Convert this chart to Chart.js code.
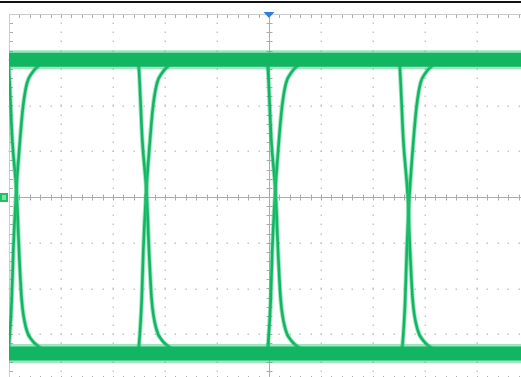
<!DOCTYPE html>
<html>
<head>
<meta charset="utf-8">
<script src="https://cdn.jsdelivr.net/npm/chart.js@4"></script>
<style>
  html, body { margin: 0; padding: 0; background: #fff; overflow: hidden; }
  #wrap { width: 540px; height: 392px; }
</style>
</head>
<body>
<div id="wrap"><canvas id="scope" width="540" height="392"></canvas></div>
<script>
// screen in divisions: 10 across, 8 high, centre at 0,0
const xRange = [-5, 5];
const yRange = [-4, 4];

// rail levels (div)
const highLevel = 3.0;
const lowLevel = -3.42;
const railTimes = [-5, 5];

// edge shapes: levels shared, times per crossing
const riseLevels = [-3.41, -3.24, -2.25, -1.16, -0.07, 1.25, 1.97, 2.49, 2.71, 2.86, 2.95, 3.02];
const fallLevels = [3.02, 2.78, 1.25, -0.07, -1.16, -2.25, -2.91, -3.13, -3.26, -3.34, -3.41];

const riseTimes = [
  [-5.019, -5.000, -4.948, -4.917, -4.871, -4.788, -4.731, -4.654, -4.558, -4.442, -4.346, -4.231],
  [-2.519, -2.500, -2.448, -2.417, -2.371, -2.288, -2.231, -2.154, -2.058, -1.942, -1.846, -1.731],
  [-0.038, -0.019, 0.033, 0.063, 0.110, 0.192, 0.250, 0.327, 0.423, 0.538, 0.635, 0.750],
  [2.548, 2.567, 2.619, 2.650, 2.696, 2.779, 2.837, 2.913, 3.010, 3.125, 3.221, 3.337]
];
const fallTimes = [
  [-5.019, -5.000, -4.937, -4.846, -4.808, -4.756, -4.660, -4.558, -4.442, -4.346, -4.231],
  [-2.519, -2.500, -2.437, -2.346, -2.308, -2.256, -2.160, -2.058, -1.942, -1.846, -1.731],
  [-0.038, -0.019, 0.044, 0.135, 0.173, 0.225, 0.321, 0.423, 0.538, 0.635, 0.750],
  [2.500, 2.519, 2.583, 2.673, 2.712, 2.763, 2.860, 2.962, 3.077, 3.173, 3.288]
];

const traceGreen = 'rgb(0,166,84)';
const haloGreen = 'rgba(40,200,115,0.45)';

function toPoints(times, levels) {
  return times.map((t, i) => ({ x: t, y: levels[i] }));
}

function railSet(level, width, color) {
  return {
    data: railTimes.map(t => ({ x: t, y: level })),
    borderColor: color,
    borderWidth: width,
    pointRadius: 0,
    showLine: true
  };
}

function edgeSet(times, levels, width, color) {
  return {
    data: toPoints(times, levels),
    borderColor: color,
    borderWidth: width,
    pointRadius: 0,
    showLine: true,
    cubicInterpolationMode: 'monotone'
  };
}

const datasets = [];
// halo first, then the darker core
[[19, haloGreen], [14, traceGreen]].forEach(([w, c]) => {
  datasets.push(railSet(highLevel, w, c));
  datasets.push(railSet(lowLevel, w, c));
});
[[4.5, haloGreen], [2.6, traceGreen]].forEach(([w, c]) => {
  riseTimes.forEach(t => datasets.push(edgeSet(t, riseLevels, w, c)));
  fallTimes.forEach(t => datasets.push(edgeSet(t, fallLevels, w, c)));
});

// scope graticule: dotted divisions, centre cross and border ticks
const graticule = {
  id: 'graticule',
  beforeDatasetsDraw(chart) {
    const { ctx, chartArea: a, scales: { x, y } } = chart;
    ctx.save();
    // dotted grid
    ctx.fillStyle = '#c6c6c6';
    for (let i = xRange[0] + 1; i < xRange[1] + 1; i++) {
      if (i === 0) continue;
      const px = Math.round(x.getPixelForValue(i));
      for (let m = yRange[0]; m <= yRange[1] + 0.01; m += 0.2) {
        ctx.fillRect(px - 0.5, Math.round(y.getPixelForValue(m)) - 0.5, 1.5, 1.5);
      }
    }
    for (let j = yRange[0] + 1; j < yRange[1]; j++) {
      if (j === 0) continue;
      const py = Math.round(y.getPixelForValue(j));
      for (let m = xRange[0]; m <= xRange[1] + 0.01; m += 0.2) {
        ctx.fillRect(Math.round(x.getPixelForValue(m)) - 0.5, py - 0.5, 1.5, 1.5);
      }
    }
    // centre cross
    const cx = Math.round(x.getPixelForValue(0)) + 0.5;
    const cy = Math.round(y.getPixelForValue(0)) + 0.5;
    ctx.strokeStyle = '#acacac';
    ctx.lineWidth = 1;
    ctx.beginPath();
    ctx.moveTo(a.left, cy); ctx.lineTo(a.right, cy);
    ctx.moveTo(cx, a.top); ctx.lineTo(cx, a.bottom);
    for (let m = xRange[0]; m <= xRange[1] + 0.01; m += 0.2) {
      const px = Math.round(x.getPixelForValue(m)) + 0.5;
      ctx.moveTo(px, cy - 3); ctx.lineTo(px, cy + 3);
      ctx.moveTo(px, a.top); ctx.lineTo(px, a.top + 4);
      ctx.moveTo(px, a.bottom); ctx.lineTo(px, a.bottom - 4);
    }
    for (let m = yRange[0]; m <= yRange[1] + 0.01; m += 0.2) {
      const py = Math.round(y.getPixelForValue(m)) + 0.5;
      ctx.moveTo(cx - 3, py); ctx.lineTo(cx + 3, py);
      ctx.moveTo(a.left, py); ctx.lineTo(a.left + 4, py);
    }
    ctx.stroke();
    // border
    ctx.strokeStyle = '#cccccc';
    ctx.strokeRect(a.left + 0.5, a.top + 0.5, a.right - a.left, a.bottom - a.top);
    ctx.restore();
  },
  afterDraw(chart) {
    const { ctx, chartArea: a, scales: { x, y } } = chart;
    ctx.save();
    // frame line above the screen
    ctx.fillStyle = '#111';
    ctx.fillRect(0, 1, chart.width, 2);
    // trigger position marker
    const tx = x.getPixelForValue(0);
    ctx.fillStyle = '#2f7fd6';
    ctx.beginPath();
    ctx.moveTo(tx - 5.5, a.top - 2);
    ctx.lineTo(tx + 5.5, a.top - 2);
    ctx.lineTo(tx, a.top + 4);
    ctx.closePath();
    ctx.fill();
    // channel ground marker
    const gy = Math.round(y.getPixelForValue(0));
    ctx.fillStyle = '#1fbf62';
    ctx.fillRect(0, gy - 4, 8, 9);
    ctx.fillStyle = '#7fe0a8';
    ctx.fillRect(2, gy - 2, 4, 5);
    ctx.restore();
  }
};

new Chart(document.getElementById('scope'), {
  type: 'scatter',
  data: { datasets },
  options: {
    responsive: false,
    animation: false,
    devicePixelRatio: 1,
    layout: { padding: { left: 9, top: 14, right: 11, bottom: 12 } },
    plugins: { legend: { display: false }, tooltip: { enabled: false } },
    scales: {
      x: { type: 'linear', display: false, min: xRange[0], max: xRange[1] },
      y: { type: 'linear', display: false, min: yRange[0], max: yRange[1] }
    }
  },
  plugins: [graticule]
});
</script>
</body>
</html>
